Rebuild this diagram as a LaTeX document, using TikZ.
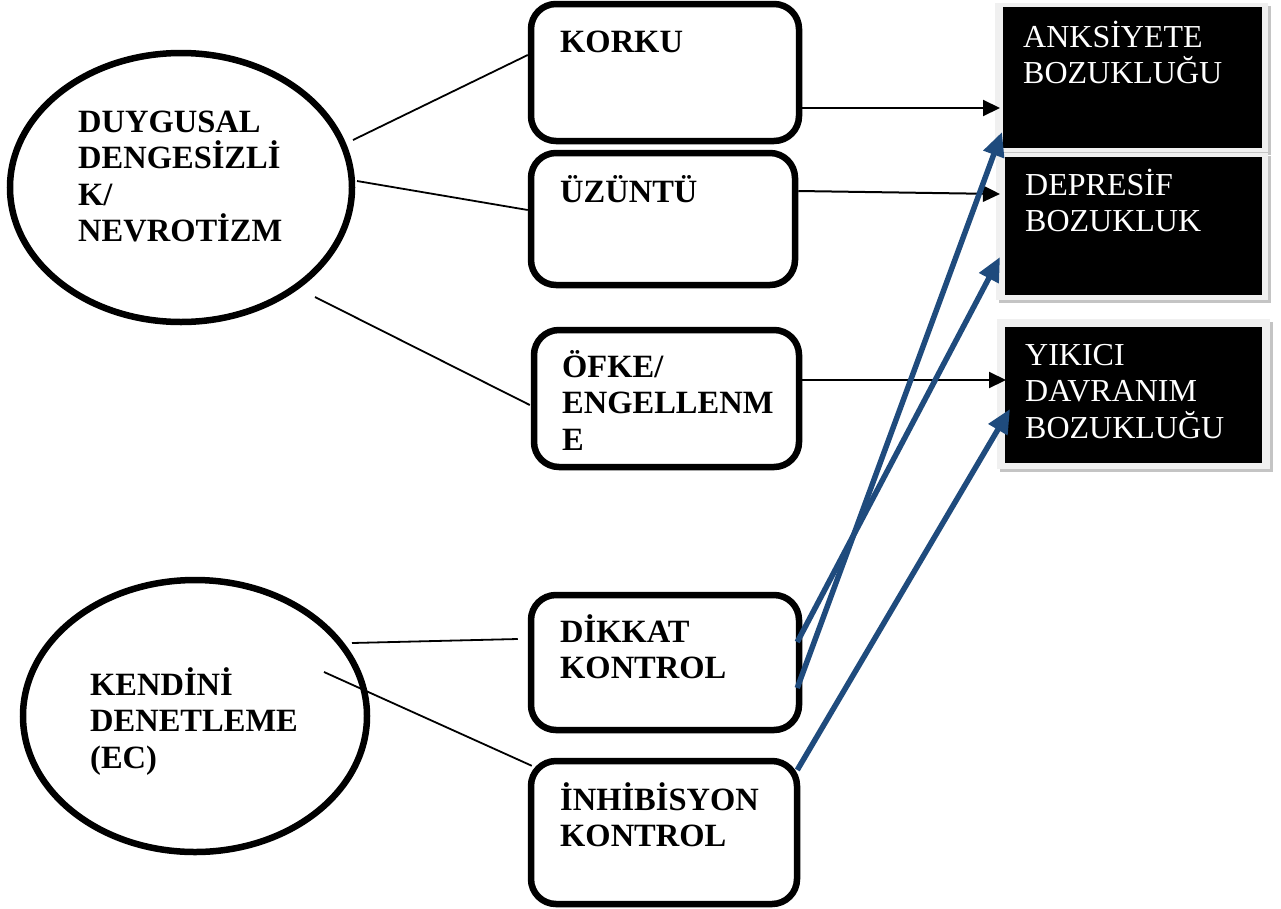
\documentclass[tikz,border=0pt]{standalone}
\usepackage{fontspec}
\setmainfont{Liberation Serif}
\usetikzlibrary{arrows.meta,shapes.geometric,backgrounds}
\definecolor{linkblue}{RGB}{31,75,125}
\definecolor{framegray}{RGB}{240,240,240}
\definecolor{shadowgray}{RGB}{196,196,196}
% left-aligned stack of lines; the baseline is that of the first line
\newcommand{\stk}[1]{\vtop{\lineskiplimit=-\maxdimen\baselineskip=36.5pt\halign{##\hfil\cr#1\crcr}}}

\begin{document}
\begin{tikzpicture}[x=1pt,y=-1pt,
  trait/.style={ellipse,draw,line width=6.5pt,inner sep=0pt},
  emobox/.style={rectangle,rounded corners=25pt,draw,line width=6.5pt,inner sep=0pt},
  disbox/.style={rectangle,fill=black,inner sep=0pt,outer sep=0pt},
  lbl/.style={anchor=base west,inner sep=0pt,font=\fontsize{32.5}{36.5}\selectfont\bfseries},
  wlbl/.style={anchor=base west,inner sep=0pt,text=white,font=\fontsize{32}{36.5}\selectfont},
  link/.style={line width=1.8pt},
  plainarrow/.style={line width=2pt,-{Triangle[length=17pt,width=16pt]}},
  bluearrow/.style={line width=5.5pt,draw=linkblue,-{Triangle[length=24pt,width=21pt]}}
]
\useasboundingbox (0,0) rectangle (1281,908);

% temperament traits
\node[trait,minimum width=342pt,minimum height=269pt] (e1) at (181,187.5) {};
\node[trait,minimum width=344pt,minimum height=272pt] (e2) at (195,716) {};

% emotion and control boxes
\node[emobox,minimum width=268pt,minimum height=137pt] (korku)  at (665,72.5)  {};
\node[emobox,minimum width=264pt,minimum height=132pt] (uzuntu) at (663,219)   {};
\node[emobox,minimum width=265pt,minimum height=137pt] (ofke)   at (666.5,398.5) {};
\node[emobox,minimum width=268pt,minimum height=135pt] (dikkat) at (665,662.5) {};
\node[emobox,minimum width=266pt,minimum height=143pt] (inhib)  at (664,832.5) {};

% disorder boxes
\node[disbox,minimum width=259pt,minimum height=141pt] (anks) at (1132.5,77.5) {};
\node[disbox,minimum width=257pt,minimum height=138pt] (depr) at (1133.5,226) {};
\node[disbox,minimum width=257pt,minimum height=136pt] (yik)  at (1133.5,395) {};

\begin{scope}[on background layer]
  \fill[shadowgray] ([shift={(-5,-1)}]anks.north west) rectangle ([shift={(9,7)}]anks.south east);
  \fill[shadowgray] ([shift={(-6,-1)}]depr.north west) rectangle ([shift={(9,8)}]depr.south east);
  \fill[shadowgray] ([shift={(-5,-5)}]yik.north west) rectangle ([shift={(11,9)}]yik.south east);
  \fill[framegray] ([shift={(-8,-4)}]anks.north west) rectangle ([shift={(6,4)}]anks.south east);
  \fill[framegray] ([shift={(-9,-4)}]depr.north west) rectangle ([shift={(6,5)}]depr.south east);
  \fill[framegray] ([shift={(-8,-8)}]yik.north west) rectangle ([shift={(8,6)}]yik.south east);
\end{scope}

% labels
\node[lbl] (t-e1) at (78,132) {\stk{DUYGUSAL\cr DENGESİZLİ\cr K/\cr NEVROTİZM}};
\node[lbl] (t-e2) at (90,695) {\stk{KENDİNİ\cr DENETLEME\cr (EC)}};
\node[lbl] (t-korku)  at (560,52)  {KORKU};
\node[lbl] (t-uzuntu) at (560,202) {ÜZÜNTÜ};
\node[lbl] (t-ofke)   at (562,377) {\stk{ÖFKE/\cr ENGELLENM\cr E}};
\node[lbl] (t-dikkat) at (560,642) {\stk{DİKKAT\cr KONTROL}};
\node[lbl] (t-inhib)  at (560,810) {\stk{İNHİBİSYON\cr KONTROL}};
\node[wlbl] (t-anks) at (1023,47)  {\stk{ANKSİYETE\cr BOZUKLUĞU}};
\node[wlbl] (t-depr) at (1025,195) {\stk{DEPRESİF\cr BOZUKLUK}};
\node[wlbl] (t-yik)  at (1025,365) {\stk{YIKICI\cr DAVRANIM\cr BOZUKLUĞU}};

% trait to emotion / control links
\draw[link] ([shift={(172,-47.5)}]e1.center) -- ([shift={(0,-17.5)}]korku.west);
\draw[link] ([shift={(176,-6.5)}]e1.center) -- ([shift={(0,-9)}]uzuntu.west);
\draw[link] ([shift={(134,109.5)}]e1.center) -- ([shift={(-1,6.5)}]ofke.west);
\draw[link] ([shift={(157,-73)}]e2.center) -- ([shift={(-10,-23.5)}]dikkat.west);
\draw[link] ([shift={(129,-44)}]e2.center) -- ([shift={(4,8)}]inhib.north west);

% emotion to disorder arrows
\draw[plainarrow] ([shift={(0,35.5)}]korku.east) -- ([shift={(-3,30.5)}]anks.west);
\draw[plainarrow] ([shift={(0,-28)}]uzuntu.east) -- ([shift={(-5,-32)}]depr.west);
\draw[plainarrow] ([shift={(0,-18.5)}]ofke.east) -- ([shift={(1,-15)}]yik.west);

% control to disorder arrows
\draw[bluearrow] ([shift={(-5,-20.5)}]dikkat.east) -- ([shift={(-5,31)}]depr.west);
\draw[bluearrow] ([shift={(-5,25.5)}]dikkat.east) -- ([shift={(-1,54.5)}]anks.west);
\draw[bluearrow] ([shift={(-3,-62.5)}]inhib.east) -- ([shift={(5,14)}]yik.west);
\end{tikzpicture}
\end{document}
